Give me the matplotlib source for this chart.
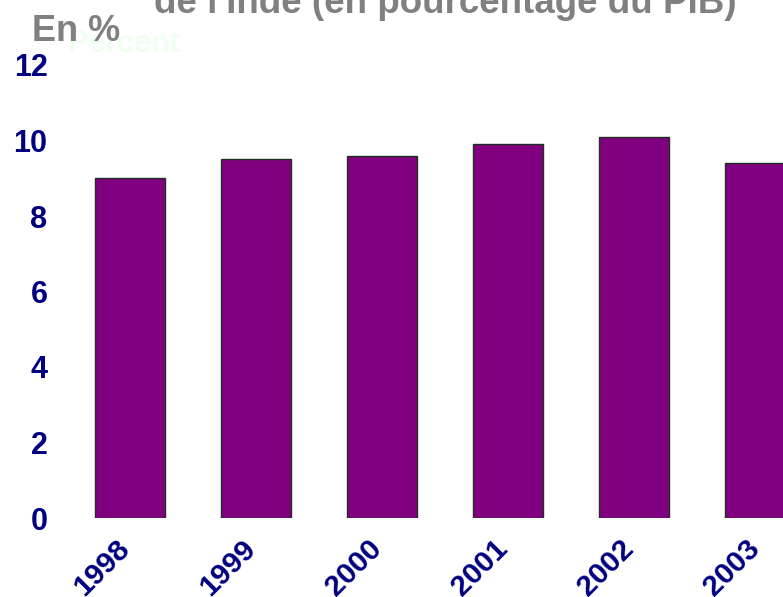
import matplotlib
matplotlib.use('Agg')
import matplotlib.pyplot as plt
import matplotlib.transforms as mtransforms

annees = ['1998', '1999', '2000', '2001', '2002', '2003']
valeurs = [9.0, 9.5, 9.6, 9.9, 10.1, 9.4]
graduations = [0, 2, 4, 6, 8, 10, 12]

plt.rcParams['font.family'] = ['Liberation Sans', 'DejaVu Sans']

fig = plt.figure(figsize=(7.83, 5.97), dpi=100)
ax = fig.add_axes([67 / 783, 1 - 518 / 597, 756 / 783, 453 / 597])

positions = range(len(annees))
ax.bar(positions, valeurs, width=0.556, color='#800080',
       edgecolor='#203020', linewidth=1)

ax.set_xlim(-0.5, 5.5)
ax.set_ylim(0, 12)
ax.set_yticks(graduations)
ax.set_yticklabels([str(g) for g in graduations])
ax.set_xticks(list(positions))
ax.set_xticklabels(annees, rotation=45, ha='right')

for spine in ax.spines.values():
    spine.set_visible(False)
ax.tick_params(axis='y', length=0, pad=14, labelsize=22, labelcolor='#000080')
ax.tick_params(axis='x', length=0, pad=12, labelsize=21.5, labelcolor='#000080')
for lab in ax.get_xticklabels() + ax.get_yticklabels():
    lab.set_fontweight('bold')

# petit décalage vers la droite des années
decalage = mtransforms.ScaledTranslation(5 / 100, 0, fig.dpi_scale_trans)
for lab in ax.get_xticklabels():
    lab.set_transform(lab.get_transform() + decalage)

# titre (coupé en haut de l'image)
fig.text(0.5 + 0.5 * (150 + 740 - 783) / 783, 1 - 13 / 597,
         "de l'Inde (en pourcentage du PIB)", ha='center', va='baseline',
         fontsize=26.5, fontweight='bold', color='#808080')

fig.text(68 / 783, 1 - 52 / 597, 'Percent', ha='left', va='baseline',
         fontsize=22, fontweight='bold', color='#f0fff0')
fig.text(32 / 783, 1 - 41 / 597, 'En %', ha='left', va='baseline',
         fontsize=26, fontweight='bold', color='#808080')

fig.savefig('out.png', dpi=100)
